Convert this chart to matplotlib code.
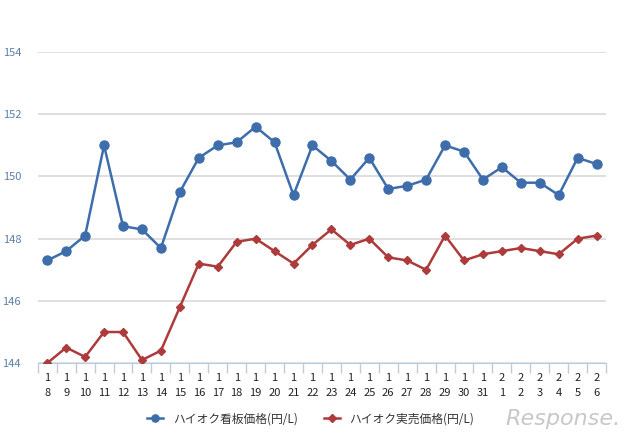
import matplotlib
matplotlib.use('Agg')
import matplotlib.pyplot as plt

plt.rcParams['font.family'] = ['Noto Sans CJK JP', 'DejaVu Sans']

months = ['1'] * 24 + ['2'] * 6
days = [str(d) for d in range(8, 32)] + [str(d) for d in range(1, 7)]
signboard = [147.3, 147.6, 148.1, 151.0, 148.4, 148.3, 147.7, 149.5, 150.6, 151.0,
             151.1, 151.6, 151.1, 149.4, 151.0, 150.5, 149.9, 150.6, 149.6, 149.7,
             149.9, 151.0, 150.8, 149.9, 150.3, 149.8, 149.8, 149.4, 150.6, 150.4]
actual = [144.0, 144.5, 144.2, 145.0, 145.0, 144.1, 144.4, 145.8, 147.2, 147.1,
          147.9, 148.0, 147.6, 147.2, 147.8, 148.3, 147.8, 148.0, 147.4, 147.3,
          147.0, 148.1, 147.3, 147.5, 147.6, 147.7, 147.6, 147.5, 148.0, 148.1]
yticks = [144, 146, 148, 150, 152, 154]

fig = plt.figure(figsize=(6.4, 4.45), dpi=100)
ax = fig.add_axes([0.059, 0.184, 0.888, 0.699])

x = list(range(len(days)))
ax.plot(x, signboard, color='#3d6dab', lw=1.8, marker='o', ms=6.5, label='ハイオク看板価格(円/L)', zorder=3)
ax.plot(x, actual, color='#ad3b3b', lw=1.8, marker='D', ms=4.5, label='ハイオク実売価格(円/L)', zorder=3)

ax.set_ylim(144, 154)
ax.set_xlim(-0.5, len(days) - 0.5)
ax.set_yticks(yticks)
ax.set_yticklabels([str(v) for v in yticks], color='#5b7ea6', fontsize=8)
ax.grid(axis='y', color='#d9d9d9', lw=1.2)
ax.set_axisbelow(True)

ax.set_xticks([i - 0.5 for i in x] + [len(days) - 0.5])
ax.set_xticklabels([])
ax.set_xticks(x, minor=True)
ax.set_xticklabels([m + '\n' + d for m, d in zip(months, days)], minor=True, fontsize=8,
                   color='#222222', linespacing=1.6)
ax.tick_params(axis='x', which='major', length=7, color='#b8cde0', width=1)
ax.tick_params(axis='x', which='minor', length=0, pad=7)
ax.tick_params(axis='y', length=0, pad=12)

for s in ['top', 'right', 'left']:
    ax.spines[s].set_visible(False)
ax.spines['bottom'].set_color('#b8cde0')

leg = ax.legend(loc='upper center', bbox_to_anchor=(0.48, -0.125), ncol=2, frameon=False,
                fontsize=8.5, handlelength=1.4, columnspacing=2.2, markerscale=0.8)
for t in leg.get_texts():
    t.set_color('#333333')

fig.text(0.97, 0.035, 'Response.', ha='right', va='bottom', fontsize=16, color='#c8c8c8',
         style='italic', family='DejaVu Sans')

fig.savefig('out.png', dpi=100)
